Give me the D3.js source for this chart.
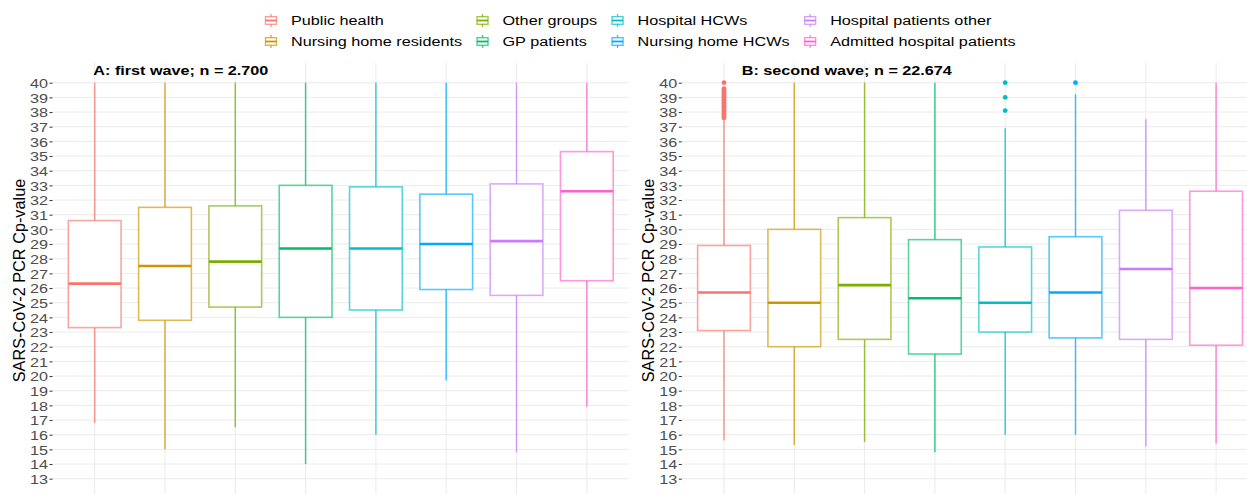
<!DOCTYPE html>
<html>
<head>
<meta charset="utf-8">
<script src="https://cdn.jsdelivr.net/npm/d3@7"></script>
<style>
  body { margin: 0; background: #fff; }
  text { font-family: "Liberation Sans", Arial, sans-serif; }
</style>
</head>
<body>
<div id="chart"></div>
<script>
// categories and colours (ggplot hue palette)
var groups = ["Public health", "Nursing home residents", "Other groups", "GP patients",
              "Hospital HCWs", "Nursing home HCWs", "Hospital patients other", "Admitted hospital patients"];
var colors = ["#F8766D", "#CD9600", "#7CAE00", "#00BE67", "#00BFC4", "#00A9FF", "#C77CFF", "#FF61CC"];
var yTicks = [13,14,15,16,17,18,19,20,21,22,23,24,25,26,27,28,29,30,31,32,33,34,35,36,37,38,39,40];

// A: first wave
var aLow  = [16.8, 15.0, 16.5, 14.0, 16.0, 19.7, 14.8, 17.9];
var aQ1   = [23.3, 23.8, 24.7, 24.0, 24.5, 25.9, 25.5, 26.5];
var aMed  = [26.3, 27.5, 27.8, 28.7, 28.7, 29.0, 29.2, 32.6];
var aQ3   = [30.6, 31.5, 31.6, 33.0, 32.9, 32.4, 33.1, 35.3];
var aHigh = [40, 40, 40, 40, 40, 40, 40, 40];

// B: second wave
var bLow  = [15.6, 15.3, 15.5, 14.8, 16.0, 16.0, 15.2, 15.4];
var bQ1   = [23.1, 22.0, 22.5, 21.5, 23.0, 22.6, 22.5, 22.1];
var bMed  = [25.7, 25.0, 26.2, 25.3, 25.0, 25.7, 27.3, 26.0];
var bQ3   = [28.9, 30.0, 30.8, 29.3, 28.8, 29.5, 31.3, 32.6];
var bHigh = [37.5, 40, 40, 40, 36.9, 39.2, 37.5, 40];

// outliers in the second wave
var bOutPublicHealth = [37.6, 37.7, 37.8, 37.9, 38.0, 38.1, 38.2, 38.3, 38.4, 38.5, 38.6, 38.7,
                        38.8, 38.9, 39.0, 39.1, 39.2, 39.3, 39.4, 39.5, 39.6, 40.0];
var bOutHospitalHCWs = [38.1, 39.0, 40.0];
var bOutNursingHCWs  = [40.0];

var W = 1247, H = 494;
var SX = 1.2;           // picture is stretched horizontally
var FS = 13.5;          // base font size

var svg = d3.select("#chart").append("svg")
    .attr("width", W)
    .attr("height", H);

svg.append("rect").attr("width", W).attr("height", H).attr("fill", "#fff");

function stretchText(parent, x, y, str) {
  return parent.append("text")
      .attr("transform", "translate(" + x + "," + y + ") scale(" + SX + ",1)")
      .attr("font-size", FS)
      .text(str);
}

var y = d3.scaleLinear().domain([13, 40]).range([478.7, 82.7]);
var panelTop = 63;

function panel(opts) {
  var x = d3.scalePoint()
      .domain(groups)
      .range([opts.left, opts.right])
      .padding(0.6);
  var bw = x.step() * 0.75;

  var g = svg.append("g");

  // grid
  g.selectAll(".hgrid").data(yTicks).enter().append("line")
      .attr("x1", opts.left).attr("x2", opts.right)
      .attr("y1", function(d) { return y(d); })
      .attr("y2", function(d) { return y(d); })
      .attr("stroke", "#ebebeb").attr("stroke-width", 1);
  g.selectAll(".vgrid").data(groups).enter().append("line")
      .attr("x1", function(d) { return x(d); })
      .attr("x2", function(d) { return x(d); })
      .attr("y1", panelTop).attr("y2", H)
      .attr("stroke", "#ebebeb").attr("stroke-width", 1);

  // y axis
  var ax = g.append("g")
      .attr("transform", "translate(" + opts.left + ",0)")
      .call(d3.axisLeft(y).tickValues(yTicks).tickSize(3).tickFormat(d3.format("d")));
  ax.select(".domain").remove();
  ax.selectAll("line").attr("stroke", "#333");
  ax.selectAll("text")
      .attr("x", null).attr("dy", null)
      .attr("fill", "#4d4d4d")
      .attr("font-size", FS)
      .attr("font-family", "Liberation Sans, Arial, sans-serif")
      .attr("text-anchor", "end")
      .attr("transform", "translate(-4.5,4.8) scale(" + SX + ",1)");

  // axis title
  g.append("text")
      .attr("transform", "translate(" + opts.titleX + "," + 280.5 + ") rotate(-90)")
      .attr("text-anchor", "middle")
      .attr("font-size", 16.3)
      .attr("fill", "#000")
      .text("SARS-CoV-2 PCR Cp-value");

  // panel title
  stretchText(g, opts.headX, 74.5, opts.head)
      .attr("font-weight", "bold")
      .attr("fill", "#000");

  // boxes
  var boxes = g.selectAll(".box").data(groups).enter().append("g")
      .attr("transform", function(d) { return "translate(" + x(d) + ",0)"; });

  boxes.append("line")
      .attr("y1", function(d, i) { return y(opts.q3[i]); })
      .attr("y2", function(d, i) { return y(opts.high[i]); })
      .attr("stroke", function(d, i) { return colors[i]; })
      .attr("stroke-opacity", 0.75)
      .attr("stroke-width", 1.5);
  boxes.append("line")
      .attr("y1", function(d, i) { return y(opts.q1[i]); })
      .attr("y2", function(d, i) { return y(opts.low[i]); })
      .attr("stroke", function(d, i) { return colors[i]; })
      .attr("stroke-opacity", 0.75)
      .attr("stroke-width", 1.5);
  boxes.append("rect")
      .attr("x", -bw / 2)
      .attr("width", bw)
      .attr("y", function(d, i) { return y(opts.q3[i]); })
      .attr("height", function(d, i) { return y(opts.q1[i]) - y(opts.q3[i]); })
      .attr("fill", "#fff")
      .attr("stroke", function(d, i) { return colors[i]; })
      .attr("stroke-opacity", 0.65)
      .attr("stroke-width", 1.6);
  boxes.append("line")
      .attr("x1", -bw / 2).attr("x2", bw / 2)
      .attr("y1", function(d, i) { return y(opts.med[i]); })
      .attr("y2", function(d, i) { return y(opts.med[i]); })
      .attr("stroke", function(d, i) { return colors[i]; })
      .attr("stroke-width", 2.6);

  // outliers
  (opts.outliers || []).forEach(function(o) {
    g.selectAll(null).data(o.values).enter().append("circle")
        .attr("cx", x(o.group))
        .attr("cy", function(d) { return y(d); })
        .attr("r", 2.4)
        .attr("fill", colors[groups.indexOf(o.group)]);
  });
}

panel({
  left: 52.5, right: 629.0, titleX: 25, headX: 93.3,
  head: "A: first wave; n = 2.700",
  low: aLow, q1: aQ1, med: aMed, q3: aQ3, high: aHigh
});

panel({
  left: 681.8, right: 1258.3, titleX: 654, headX: 741.7,
  head: "B: second wave; n = 22.674",
  low: bLow, q1: bQ1, med: bMed, q3: bQ3, high: bHigh,
  outliers: [
    {group: "Public health", values: bOutPublicHealth},
    {group: "Hospital HCWs", values: bOutHospitalHCWs},
    {group: "Nursing home HCWs", values: bOutNursingHCWs}
  ]
});

// legend, filled column by column (2 rows)
var legend = svg.append("g");
var rowY = [20.5, 41.5];
var keyX = 271;
for (var c = 0; c < 4; c++) {
  var maxW = 0;
  for (var r = 0; r < 2; r++) {
    var i = c * 2 + r;
    var cy = rowY[r];
    var key = legend.append("g").attr("transform", "translate(" + keyX + "," + cy + ")");
    key.append("line").attr("y1", -6.5).attr("y2", 6.5)
        .attr("stroke", colors[i]).attr("stroke-opacity", 0.75).attr("stroke-width", 1.4);
    key.append("rect").attr("x", -5.5).attr("y", -3.8).attr("width", 11).attr("height", 7.6)
        .attr("fill", "#fff").attr("stroke", colors[i]).attr("stroke-opacity", 0.7).attr("stroke-width", 1.4);
    key.append("line").attr("x1", -5.5).attr("x2", 5.5)
        .attr("stroke", colors[i]).attr("stroke-width", 1.8);
    var t = stretchText(legend, keyX + 20, cy + 4.7, groups[i]).attr("fill", "#000");
    maxW = Math.max(maxW, t.node().getComputedTextLength() * SX);
  }
  keyX = keyX + 20 + maxW + 20.5;
}
</script>
</body>
</html>
